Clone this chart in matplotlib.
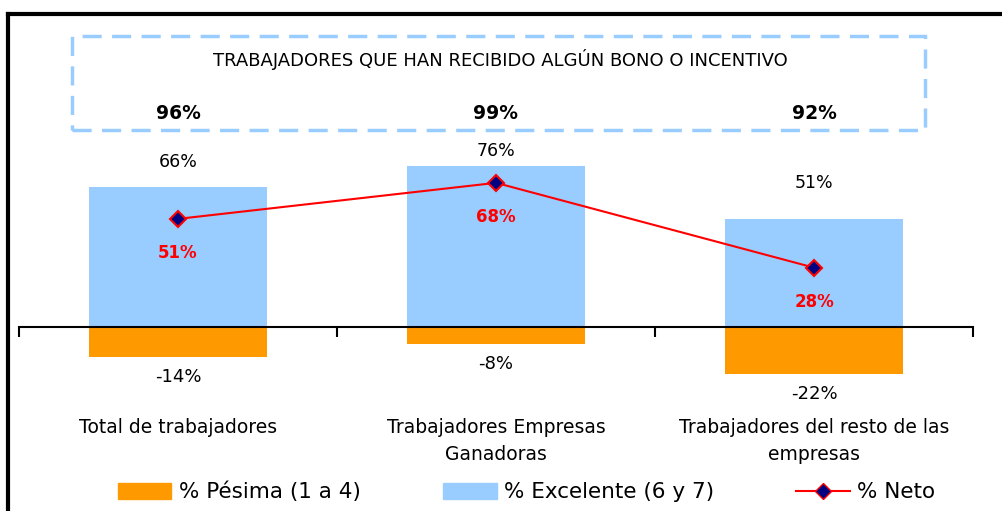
import matplotlib.pyplot as plt
from matplotlib.lines import Line2D
from matplotlib.patches import Patch, Rectangle

# datos
categorias = ["Total de trabajadores", "Trabajadores Empresas\nGanadoras",
              "Trabajadores del resto de las\nempresas"]
excelente = [66, 76, 51]
pesima = [-14, -8, -22]
neto = [51, 68, 28]
bono = [96, 99, 92]
titulo_caja = "TRABAJADORES QUE HAN RECIBIDO ALGÚN BONO O INCENTIVO"

azul = "#99CCFF"
naranja = "#FF9900"

plt.rcParams['font.family'] = ['DejaVu Sans']

fig = plt.figure(figsize=(10.03, 5.11), dpi=100)
W, H = 1003, 511

# eje: x de 19 a 973 px, cero en y=327 px
ax = fig.add_axes([19 / W, (H - 390.6) / H, 954 / W, 275.6 / H])
x = list(range(len(categorias)))
ax.bar(x, excelente, width=0.56, color=azul, zorder=1)
ax.bar(x, pesima, width=0.56, color=naranja, zorder=1)
ax.plot(x, neto, color="red", lw=1.5, marker="D", markersize=8,
        markerfacecolor="#000080", markeredgecolor="red", markeredgewidth=1.5, zorder=3)
ax.set_xlim(-0.5, 2.5)
ax.set_ylim(-30, 100)

for s in ["top", "right", "left"]:
    ax.spines[s].set_visible(False)
ax.spines["bottom"].set_position(("data", 0))
ax.spines["bottom"].set_linewidth(1.5)
ax.spines["bottom"].set_zorder(2)
ax.set_yticks([])
ax.set_xticks([-0.5, 0.5, 1.5, 2.5])
ax.set_xticklabels([])
ax.tick_params(axis="x", direction="out", length=7, width=1.5)

# etiquetas
desp_pos = [12, 7, 17]  # separación sobre la barra (unidades de datos)
for i in x:
    ax.text(i, excelente[i] + desp_pos[i], f"{excelente[i]}%", ha="center", va="center", fontsize=12.5)
    ax.text(i, pesima[i] - 9.5, f"{pesima[i]}%", ha="center", va="center", fontsize=13)
    ax.text(i, neto[i] - 16, f"{neto[i]}%", ha="center", va="center", fontsize=12,
            color="red", fontweight="bold")
    ax.text(i, -43.0, categorias[i], ha="center", va="top", fontsize=13.5, linespacing=1.5)
    ax.text(i, 100.5, f"{bono[i]}%", ha="center", va="center", fontsize=13.5, fontweight="bold")

# caja punteada con el título
caja = Rectangle((72 / W, (H - 130) / H), (925 - 72) / W, 94 / H, transform=fig.transFigure,
                 fill=False, edgecolor=azul, lw=2.5, linestyle=(0, (5.5, 3)))
fig.patches.append(caja)
fig.text(500 / W, (H - 59) / H, titulo_caja, ha="center", va="center", fontsize=13)

# marco
fig.add_artist(Line2D([8 / W, 1.01], [(H - 14) / H] * 2, color="black", lw=3, transform=fig.transFigure))
fig.add_artist(Line2D([8 / W] * 2, [-0.01, (H - 14) / H], color="black", lw=3, transform=fig.transFigure))

handles = [Patch(color=naranja, label="% Pésima (1 a 4)"),
           Patch(color=azul, label="% Excelente (6 y 7)"),
           Line2D([], [], color="red", lw=1.5, marker="D", markersize=8,
                  markerfacecolor="#000080", markeredgecolor="red", label="% Neto")]
fig.legend(handles=handles, loc="center", bbox_to_anchor=(0.525, (H - 492) / H), ncol=3,
           frameon=False, fontsize=15.5, handlelength=2.5, handleheight=0.75,
           columnspacing=3.8, handletextpad=0.35)

fig.savefig("out.png", dpi=100)
